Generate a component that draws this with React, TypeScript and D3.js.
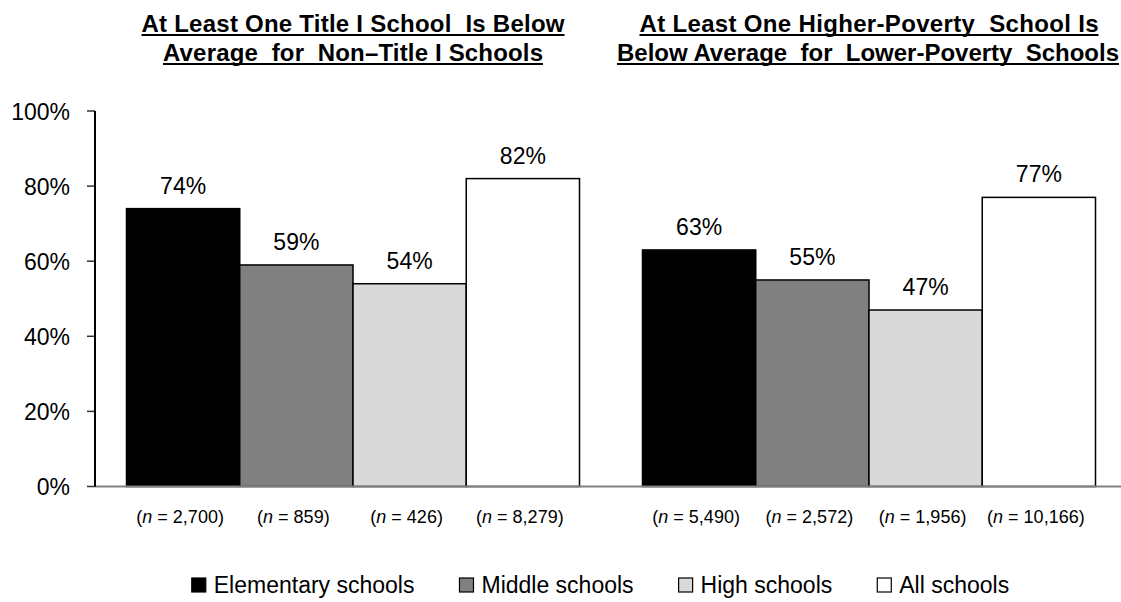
import React from "react";
import * as d3 from "d3";

const series = ["Elementary schools", "Middle schools", "High schools", "All schools"];
const seriesColors = ["#000000", "#808080", "#D9D9D9", "#FFFFFF"];
const panels = ["titleI", "poverty"];
const titleLines = [
  ["At Least One Title I School  Is Below", "Average  for  Non\u2013Title I Schools"],
  ["At Least One Higher-Poverty  School Is", "Below Average  for  Lower-Poverty  Schools"],
];
const titleWidths = [
  [423, 380],
  [459, 502],
];
const valuesTitleI = [74, 59, 54, 82];
const valuesPoverty = [63, 55, 47, 77];
const nTitleI = ["2,700", "859", "426", "8,279"];
const nPoverty = ["5,490", "2,572", "1,956", "10,166"];
const yTicks = [0, 20, 40, 60, 80, 100];

const W = 1121;
const H = 602;
const FONT = "'Liberation Sans', Arial, sans-serif";

function measure(text: string, size: number, weight = "normal") {
  const c = document.createElement("canvas").getContext("2d");
  if (!c) return text.length * size * 0.55;
  c.font = `${weight} ${size}px 'Liberation Sans', Arial, sans-serif`;
  return c.measureText(text).width;
}

export default function App() {
  const values = [valuesTitleI, valuesPoverty];
  const ns = [nTitleI, nPoverty];

  const axisX = 95;
  const y = d3.scaleLinear().domain([0, 100]).range([486.5, 111]);
  const x0 = d3.scaleBand<string>().domain(panels).range([axisX, 1127]).padding(0);
  const gap = 31.5;
  const x1 = d3
    .scaleBand<string>()
    .domain(series)
    .range([gap, x0.bandwidth() - gap])
    .padding(0);

  // legend layout
  const legendFont = 23;
  const sq = 14;
  const textOffset = 22;
  const itemGap = 45;
  const widths = series.map((s) => measure(s, legendFont));
  const total = widths.reduce((a, w) => a + textOffset + w, 0) + itemGap * (series.length - 1);
  let lx = 600.5 - total / 2;
  const legendItems = series.map((s, i) => {
    const item = { s, i, x: lx };
    lx += textOffset + widths[i] + itemGap;
    return item;
  });

  return (
    <svg width={W} height={H} style={{ display: "block", position: "absolute", left: 0, top: 0 }} fontFamily={FONT}>
      <rect width={W} height={H} fill="#fff" />
      {/* titles */}
      {panels.map((p, pi) => {
        const center = (x0(p) as number) + x0.bandwidth() / 2;
        return (
          <g key={p}>
            {titleLines[pi].map((line, li) => {
              const by = 32 + li * 29;
              const w = titleWidths[pi][li];
              const cx = Math.min(center, W - 2 - w / 2);
              return (
                <g key={li}>
                  <text
                    x={cx}
                    y={by}
                    textAnchor="middle"
                    fontWeight="bold"
                    fontSize={24}
                    textLength={w}
                    lengthAdjust="spacing"
                    fill="#000"
                    style={{ whiteSpace: "pre" }}
                  >
                    {line}
                  </text>
                  <rect x={cx - w / 2} y={by + 2} width={w} height={2} fill="#000" />
                </g>
              );
            })}
          </g>
        );
      })}

      {/* y axis */}
      {yTicks.map((t) => (
        <g key={t}>
          <line x1={87} x2={axisX} y1={y(t)} y2={y(t)} stroke="#333" strokeWidth={1.5} />
          <text x={70} y={y(t) + 8.5} textAnchor="end" fontSize={23} fill="#000">
            {t}%
          </text>
        </g>
      ))}

      {/* bars */}
      {panels.map((p, pi) => (
        <g key={p} transform={`translate(${x0(p)},0)`}>
          {series.map((s, si) => {
            const v = values[pi][si];
            const bx = x1(s) as number;
            const bw = x1.bandwidth();
            return (
              <g key={s}>
                <rect
                  x={bx}
                  y={y(v)}
                  width={bw}
                  height={y(0) - y(v)}
                  fill={seriesColors[si]}
                  stroke="#000"
                  strokeWidth={1.5}
                />
                <text x={bx + bw / 2} y={y(v) - 15} textAnchor="middle" fontSize={23} fill="#000">
                  {v}%
                </text>
                <text x={bx + bw / 2 - 3} y={523} textAnchor="middle" fontSize={18} fill="#000">
                  (<tspan fontStyle="italic">n</tspan>
                  {" = "}
                  {ns[pi][si]})
                </text>
              </g>
            );
          })}
        </g>
      ))}

      {/* x axis baseline */}
      <line x1={axisX} x2={W} y1={y(0)} y2={y(0)} stroke="#808080" strokeWidth={2} />
      <line x1={axisX} x2={axisX} y1={y(100)} y2={y(0)} stroke="#000" strokeWidth={2} />

      {/* legend */}
      {legendItems.map(({ s, i, x }) => (
        <g key={s}>
          <rect x={x} y={578} width={sq} height={sq} fill={seriesColors[i]} stroke="#000" strokeWidth={1.2} />
          <text x={x + textOffset} y={593} fontSize={legendFont} fill="#000">
            {s}
          </text>
        </g>
      ))}
    </svg>
  );
}
